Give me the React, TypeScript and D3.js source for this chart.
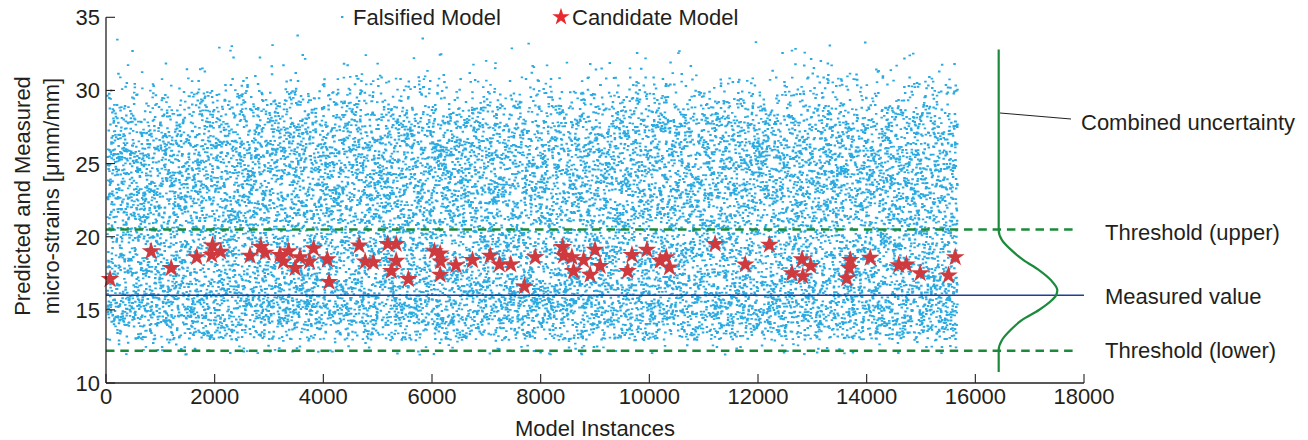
import React, { useMemo } from 'react';
import * as d3 from 'd3';

// falsified model instances: one prediction per instance index
const instanceCount = 15650;
// relative density of falsified predictions per 1-unit band (band start values)
const falsifiedBands = [12, 13, 14, 15, 16, 17, 18, 19, 20, 21, 22, 23, 24, 25, 26, 27, 28, 29, 30, 31, 32, 33];
const falsifiedDensity = [0.08, 0.65, 1.05, 1.05, 0.95, 0.85, 0.8, 0.8, 0.8, 0.85, 0.9, 0.95, 0.95, 0.95, 0.9, 0.8, 0.6, 0.38, 0.18, 0.07, 0.025, 0.008];

// candidate models [instance, value]
const candidates: [number, number][] = [
  [74, 17.1], [830, 19.0], [1200, 17.85], [1670, 18.6], [1960, 19.4], [1945, 18.75], [2110, 18.97],
  [2650, 18.7], [2850, 19.3], [2930, 18.9], [3200, 18.75], [3360, 19.0], [3265, 18.3], [3480, 17.85],
  [3570, 18.6], [3745, 18.3], [3820, 19.2], [4075, 18.45], [4105, 16.9], [4660, 19.4], [4770, 18.3],
  [4920, 18.25], [5185, 19.5], [5340, 19.5], [5340, 18.35], [5250, 17.65], [5565, 17.1], [6045, 19.0],
  [6150, 18.85], [6160, 18.3], [6150, 17.4], [6440, 18.05], [6745, 18.4], [7070, 18.7], [7240, 18.1],
  [7450, 18.1], [7700, 16.6], [7900, 18.6], [8405, 19.3], [8420, 18.7], [8575, 18.6], [8605, 17.65],
  [8790, 18.4], [8910, 17.4], [9000, 19.1], [9095, 18.0], [9600, 17.65], [9680, 18.75], [9955, 19.1],
  [10200, 18.35], [10310, 18.6], [10370, 17.9], [11210, 19.5], [11765, 18.1], [12210, 19.45],
  [12625, 17.5], [12810, 18.45], [12825, 17.3], [12970, 18.0], [13700, 18.4], [13680, 17.85],
  [13635, 17.15], [14065, 18.55], [14590, 18.05], [14730, 18.1], [14985, 17.5], [15505, 17.35], [15630, 18.6],
];

const measuredValue = 16;
const thresholdUpper = 20.5;
const thresholdLower = 12.2;

// combined uncertainty pdf (relative)
const uncertaintyY = [10.75, 12.25, 12.94, 13.62, 14.3, 14.99, 15.67, 16.0, 16.35, 17.04, 17.72, 18.4, 19.08, 19.77, 20.45, 32.8];
const uncertaintyPdf = [0, 0, 0.056, 0.2, 0.39, 0.68, 0.9, 0.97, 0.99, 0.88, 0.68, 0.42, 0.215, 0.056, 0, 0];
const curveBase = 16430;
const curvePeak = 1090;

const xTicks = [0, 2000, 4000, 6000, 8000, 10000, 12000, 14000, 16000, 18000];
const yTicks = [10, 15, 20, 25, 30, 35];

const W = 1308;
const H = 440;
const font = '"Liberation Sans", Arial, Helvetica, sans-serif';
const textColor = '#231f20';
const fs = 22;

// deterministic hash for spreading the points within bands
function mulberry32(seed: number) {
  let a = seed;
  return () => {
    a |= 0; a = (a + 0x6d2b79f5) | 0;
    let t = Math.imul(a ^ (a >>> 15), 1 | a);
    t = (t + Math.imul(t ^ (t >>> 7), 61 | t)) ^ t;
    return ((t ^ (t >>> 14)) >>> 0) / 4294967296;
  };
}

export default function App() {
  const x = d3.scaleLinear().domain([0, 18000]).range([106, 1084]);
  const y = d3.scaleLinear().domain([10, 35]).range([383, 17.3]);

  const dotsPath = useMemo(() => {
    const rnd = mulberry32(7);
    const total = d3.sum(falsifiedDensity);
    const cdf = Array.from(d3.cumsum(falsifiedDensity)).map((v) => v / total);
    let p = '';
    for (let i = 1; i <= instanceCount; i++) {
      const u = rnd();
      const k = d3.bisectLeft(cdf, u);
      const v = falsifiedBands[k] + rnd();
      p += `M${x(i).toFixed(1)},${y(v).toFixed(1)}h2.5v1.9h-2.5z`;
    }
    return p;
  }, []);

  const curve = d3.line<number>()
    .x((_, i) => x(curveBase + uncertaintyPdf[i] * curvePeak))
    .y((d) => y(d))
    .curve(d3.curveMonotoneY)(uncertaintyY);

  const star = d3.symbol().type(d3.symbolStar).size(110)();
  const legendStar = d3.symbol().type(d3.symbolStar).size(95)();

  const green = '#1b8b3b';

  return (
    <div style={{ position: 'absolute', left: 0, top: 0 }}>
      <svg width={W} height={H} style={{ display: 'block', background: '#fff' }} fontFamily={font}>
        {/* falsified models */}
        <path d={dotsPath} fill="#29abe2" />

        {/* thresholds and measured value */}
        {[thresholdUpper, thresholdLower].map((t) => (
          <line key={t} x1={x(0)} x2={x(17850)} y1={y(t)} y2={y(t)}
            stroke={green} strokeWidth={2.5} strokeDasharray="8.5,5.8" />
        ))}
        <line x1={x(0)} x2={x(18000)} y1={y(measuredValue)} y2={y(measuredValue)} stroke="#213f96" strokeWidth={1.6} />

        {/* candidate models */}
        {candidates.map(([cx, cy], i) => (
          <path key={i} d={star!} transform={`translate(${x(cx)},${y(cy)})`} fill="#cf3a3f" />
        ))}

        {/* combined uncertainty */}
        <path d={curve!} fill="none" stroke={green} strokeWidth={2.2} />
        <line x1={1000} y1={113} x2={1071} y2={119} stroke={textColor} strokeWidth={1} />

        {/* axes */}
        <line x1={x(0)} x2={x(18000)} y1={y(10)} y2={y(10)} stroke={textColor} strokeWidth={1.3} />
        <line x1={x(0)} x2={x(0)} y1={y(10)} y2={y(35)} stroke={textColor} strokeWidth={1.3} />
        {xTicks.map((t) => (
          <g key={t}>
            <line x1={x(t)} x2={x(t)} y1={y(10)} y2={y(10) - 9} stroke={textColor} strokeWidth={1.1} />
            <text x={x(t)} y={404} textAnchor="middle" fontSize={fs} fill={textColor}>{t}</text>
          </g>
        ))}
        {yTicks.map((t) => (
          <g key={t}>
            <line x1={x(0)} x2={x(0) + 9} y1={y(t)} y2={y(t)} stroke={textColor} strokeWidth={1.1} />
            <text x={100} y={y(t) + 8} textAnchor="end" fontSize={fs} fill={textColor}>{t}</text>
          </g>
        ))}

        <text x={595} y={436} textAnchor="middle" fontSize={fs} fill={textColor}>Model Instances</text>
        <g transform="translate(30,196) rotate(-90)">
          <text x={0} y={0} textAnchor="middle" fontSize={fs} fill={textColor}>Predicted and Measured</text>
          <text x={0} y={29} textAnchor="middle" fontSize={fs} fill={textColor}>micro-strains [μmm/mm]</text>
        </g>

        {/* legend */}
        <rect x={341} y={16} width={2.4} height={2} fill="#29abe2" />
        <text x={353} y={25} fontSize={fs} fill={textColor}>Falsified Model</text>
        <path d={legendStar!} transform="translate(561,17)" fill="#e8282c" />
        <text x={572} y={25} fontSize={fs} fill={textColor}>Candidate Model</text>

        {/* annotations */}
        <text x={1081} y={130} fontSize={fs} fill={textColor}>Combined uncertainty</text>
        <text x={1105} y={240} fontSize={fs} fill={textColor}>Threshold (upper)</text>
        <text x={1105} y={304} fontSize={fs} fill={textColor}>Measured value</text>
        <text x={1105} y={358} fontSize={fs} fill={textColor}>Threshold (lower)</text>
      </svg>
    </div>
  );
}
